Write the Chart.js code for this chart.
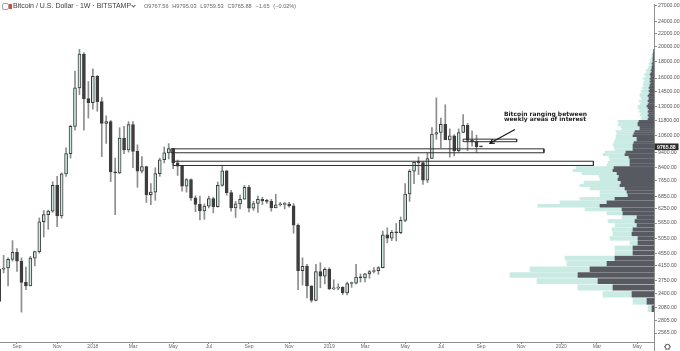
<!DOCTYPE html>
<html><head><meta charset="utf-8">
<script src="https://cdn.jsdelivr.net/npm/chart.js@4.4.1/dist/chart.umd.min.js"></script>
<style>
html,body{margin:0;padding:0;background:#fff;}
#wrap{position:relative;width:680px;height:351px;overflow:hidden;background:#fff;}
#c{position:absolute;left:0;top:0;}
.h{position:absolute;white-space:nowrap;font-family:"Liberation Sans",Arial,sans-serif;}
#ic{left:2px;top:3px;width:5px;height:5px;border:1px solid #a3a3a3;border-radius:2px;}
#logo{left:8.5px;top:3.5px;width:3.5px;height:5px;background:#e2473c;}
#sym{left:13px;top:2.2px;font-size:7px;line-height:8px;color:#3b3b3b;}
#chev{left:131.5px;top:3.6px;width:2px;height:2px;border-right:1px solid #555;border-bottom:1px solid #555;transform:rotate(45deg);}
#ohlc{left:144px;top:3.4px;font-size:5.6px;line-height:7px;color:#666;word-spacing:2.2px;}
</style></head>
<body><div id="wrap"><canvas id="c" width="680" height="351"></canvas>
<div class="h" id="ic"></div><div class="h" id="logo"></div>
<div class="h" id="sym">Bitcoin / U.S. Dollar · 1W · BITSTAMP</div><div class="h" id="chev"></div>
<div class="h" id="ohlc"></div></div>
<script>
// ---- weekly candles (Bitstamp BTC/USD) ----
const weeks = ['2017-08-07','2017-08-14','2017-08-21','2017-08-28','2017-09-04','2017-09-11','2017-09-18','2017-09-25','2017-10-02','2017-10-09','2017-10-16','2017-10-23','2017-10-30','2017-11-06','2017-11-13','2017-11-20','2017-11-27','2017-12-04','2017-12-11','2017-12-18','2017-12-25','2018-01-01','2018-01-08','2018-01-15','2018-01-22','2018-01-29','2018-02-05','2018-02-12','2018-02-19','2018-02-26','2018-03-05','2018-03-12','2018-03-19','2018-03-26','2018-04-02','2018-04-09','2018-04-16','2018-04-23','2018-04-30','2018-05-07','2018-05-14','2018-05-21','2018-05-28','2018-06-04','2018-06-11','2018-06-18','2018-06-25','2018-07-02','2018-07-09','2018-07-16','2018-07-23','2018-07-30','2018-08-06','2018-08-13','2018-08-20','2018-08-27','2018-09-03','2018-09-10','2018-09-17','2018-09-24','2018-10-01','2018-10-08','2018-10-15','2018-10-22','2018-10-29','2018-11-05','2018-11-12','2018-11-19','2018-11-26','2018-12-03','2018-12-10','2018-12-17','2018-12-24','2018-12-31','2019-01-07','2019-01-14','2019-01-21','2019-01-28','2019-02-04','2019-02-11','2019-02-18','2019-02-25','2019-03-04','2019-03-11','2019-03-18','2019-03-25','2019-04-01','2019-04-08','2019-04-15','2019-04-22','2019-04-29','2019-05-06','2019-05-13','2019-05-20','2019-05-27','2019-06-03','2019-06-10','2019-06-17','2019-06-24','2019-07-01','2019-07-08','2019-07-15','2019-07-22','2019-07-29','2019-08-05','2019-08-12','2019-08-19','2019-08-26','2019-09-02'];
const opens  = [3220,4060,4090,4350,4580,4300,3690,3600,4390,4600,5700,6000,6150,7400,5950,8040,9300,11300,14900,19000,13800,13400,16200,13500,11550,11700,8150,8100,10400,9550,11450,9450,8200,8470,6930,7050,8050,8900,9350,9640,8700,8500,7360,7720,6770,6460,6160,6380,6730,6350,7400,8220,7030,6300,6480,6700,7300,6280,6500,6700,6620,6600,6300,6440,6460,6470,6390,5560,4010,4140,3600,3240,3990,3860,4050,3520,3540,3560,3420,3660,3670,3830,3810,3920,3990,4010,4100,5190,5070,5280,5270,5760,6960,8190,8740,8720,7680,8980,10700,10820,11470,10250,10570,9500,10820,11390,10230,10140,9767.56];
const highs  = [4200,4480,4400,4980,4700,4400,4120,4450,4620,5860,6180,6200,7600,7900,8100,9700,11400,16800,19666,19200,15600,17100,16300,13900,12200,11800,9000,11200,11300,11700,11700,9900,9100,8500,7500,8400,9000,9750,9990,9650,8880,8550,7770,7760,6870,6850,6480,6850,6800,7580,8500,8250,7150,6600,6900,7400,7400,6600,6850,6800,6700,6700,6950,6550,6550,6550,6500,5620,4400,4200,3600,4200,4250,4100,4100,3760,3650,3580,3700,3700,4200,3920,3940,4020,4100,4130,5330,5460,5360,5630,5900,7500,8300,8650,9080,8800,9350,11200,13880,12000,13200,11100,10660,11100,12300,11550,10950,10620,9795.03];
const lows   = [3180,3950,3600,4300,3990,2980,3500,3600,4150,4550,5110,5400,6100,5500,5850,7900,9000,11000,14200,11000,12000,12800,12600,9100,10000,7600,6000,8050,9300,9400,8400,7300,8100,6550,6450,6650,7900,8700,8950,8350,7950,7100,7050,6650,6130,5780,5800,6300,6080,6330,7360,6900,6150,5880,6250,6700,6120,6190,6100,6450,6500,6150,6300,6380,6250,6330,5250,3500,3620,3300,3200,3230,3550,3650,3500,3500,3500,3380,3370,3560,3650,3700,3700,3800,3950,3910,4090,4900,4980,4970,5230,5700,6600,7500,8000,7450,7550,8970,10300,9700,10900,9070,9150,9400,10800,9500,9800,9360,9759.53];
const closes = [4060,4090,4350,4580,4300,3690,3600,4390,4600,5700,6000,6150,7400,5950,8040,9300,11300,14900,19000,13800,13400,16200,13500,11550,11700,8150,8100,10400,9550,11450,9450,8200,8470,6930,7050,8050,8900,9350,9640,8700,8500,7360,7720,6770,6460,6160,6380,6730,6350,7400,8220,7030,6300,6480,6700,7300,6280,6500,6700,6620,6600,6300,6440,6460,6470,6390,5560,4010,4140,3600,3240,3990,3860,4050,3520,3540,3560,3420,3660,3670,3830,3810,3920,3990,4010,4100,5190,5070,5280,5270,5760,6960,8190,8740,8720,7680,8980,10700,10820,11470,10250,10570,9500,10820,11390,10230,10140,9767.53,9765.88];

// ---- axes ----
const timeTickIdx    = [4,13,21,30,39,47,56,65,74,82,91,99,108,117,126,134,143];
const timeTickLabels = ['Sep','Nov','2018','Mar','May','Jul','Sep','Nov','2019','Mar','May','Jul','Sep','Nov','2020','Mar','May'];
const priceTicks = [27000,24000,22000,20000,18000,16000,14500,13000,11800,10600,9400,8400,7650,6850,6250,5650,5050,4550,4150,3750,3400,3080,2805,2565];

// ---- visible range volume profile (price rows) ----
const vpPrice = [3055,3222,3389,3556,3723,3890,4057,4224,4391,4558,4725,4892,5059,5226,5393,5560,5727,5894,6061,6228,6395,6562,6729,6896,7063,7230,7397,7563,7730,7897,8064,8231,8398,8565,8732,8899,9066,9233,9400,9567,9734,9901,10068,10235,10402,10569,10736,10903,11070,11237,11403,11570,11737,11904,12071,12238,12405,12572,12739,12906,13073,13240,13407,13574,13741,13908,14075,14242,14409,14576,14743,14910,15077,15244,15410,15577,15744,15911,16078,16245,16412,16579,16746,16913,17080,17247,17414,17581,17748,17915,18082,18249,18416,18583,18750,18917,19084,19251,19417,19584];
const vpDown = [2,7,22,41,56,76,64,47,39,21,21,16,16,22,21,17,19,17,31,32,54,47,39,26,27,29,34,33,36,35,37,41,40,24,24,24,25,29,28,21,21,21,20,17,17,21,20,19,14,14,16,16,15,6,5,6,5,6,5,6,7,6,5,6,5,5,6,5,4,5,4,5,4,4,3,4,3,4,3,3,4,3,2,3,2,2,2,1,2,1,1,1,1,1,0.5,1,0.5,0.5,0.3,0.3];
const vpUp   = [4,14,29,35,61,68,60,40,50,18,18,8,28,19,21,22,27,15,16,37,62,47,35,28,27,35,40,37,18,20,35,40,38,23,22,20,20,22,21,18,19,20,20,22,21,17,17,19,18,19,20,19,21,7,7,8,8,9,9,10,9,8,8,9,7,8,8,9,8,8,7,7,6,7,7,6,6,7,6,5,6,5,5,5,4,4,3,3,3,3,2,3,2,1,1.5,1,1,0.5,0.7,0.7];

// ---- drawn zones (bar index start/end, price low/high) ----
const zoneStart = [38.5, 39.0, 104.0];
const zoneEnd   = [122.1, 133.2, 116.0];
const zoneLow   = [9354, 8539, 10128];
const zoneHigh  = [9623, 8803, 10316];
const arrowFrom = [115.6, 11050];
const arrowTo   = [110.0, 10010];
const noteLines = ['Bitcoin ranging between', 'weekly areas of interest'];
const noteAt    = [113.15, 12210, 11740];

const xMin = 0.19, xMax = 146.78;
const vpUnit = (xMax - xMin) / 654;   // profile length unit, in bar widths

const last = closes.length - 1;
const lastPrice = closes[last];
const chg = closes[last] - closes[last - 1];
document.getElementById('ohlc').textContent =
  'O' + opens[last].toFixed(2) + ' H' + highs[last].toFixed(2) + ' L' + lows[last].toFixed(2) +
  ' C' + closes[last].toFixed(2) + ' ' + (chg < 0 ? '\u2212' : '+') + Math.abs(chg).toFixed(2) +
  ' (' + (chg < 0 ? '\u2212' : '+') + Math.abs(chg / closes[last - 1] * 100).toFixed(2) + '%)';

const upFill = '#c8eae3', downFill = '#3d3d3d', edge = '#3a3a3a', wickCol = '#8d8d8d';
const vpDarkCol = '#575a61', vpLightCol = '#c9ebe4', axisCol = '#8e8e8e';
const isUp = i => closes[i] >= opens[i];

const datasets = [];
zoneStart.forEach((s, k) => {
  datasets.push({
    type: 'line', xAxisID: 'x', yAxisID: 'y', order: 0,
    data: [{x: s, y: zoneHigh[k]}, {x: zoneEnd[k], y: zoneHigh[k]}, {x: zoneEnd[k], y: zoneLow[k]}, {x: s, y: zoneLow[k]}, {x: s, y: zoneHigh[k]}],
    borderColor: '#2e2e2e', borderWidth: 1, pointRadius: 0, fill: false, tension: 0
  });
});
datasets.push({
  type: 'bar', xAxisID: 'x', yAxisID: 'y', order: 4, grouped: false,
  data: weeks.map((w, i) => ({x: i, y: [opens[i], closes[i]]})),
  barThickness: 3, minBarLength: 1, borderWidth: 1, borderSkipped: false,
  backgroundColor: c => isUp(c.dataIndex) ? upFill : downFill,
  borderColor: c => isUp(c.dataIndex) ? edge : downFill
});
datasets.push({
  type: 'bar', xAxisID: 'x', yAxisID: 'y', order: 5, grouped: false,
  data: weeks.map((w, i) => ({x: i, y: [lows[i], highs[i]]})),
  barThickness: 1, backgroundColor: wickCol, borderWidth: 0
});
datasets.push({
  type: 'bar', indexAxis: 'y', xAxisID: 'x', yAxisID: 'yv', order: 10,
  data: vpPrice.map((p, k) => ({y: p, x: [xMax - vpDown[k] * vpUnit, xMax]})),
  backgroundColor: vpDarkCol, barThickness: 'flex', categoryPercentage: 1, barPercentage: 0.82, borderWidth: 0
});
datasets.push({
  type: 'bar', indexAxis: 'y', xAxisID: 'x', yAxisID: 'yv', order: 11,
  data: vpPrice.map((p, k) => ({y: p, x: [xMax - (vpDown[k] + vpUp[k]) * vpUnit, xMax - vpDown[k] * vpUnit]})),
  backgroundColor: vpLightCol, barThickness: 'flex', categoryPercentage: 1, barPercentage: 0.82, borderWidth: 0
});

const overlay = {
  id: 'overlay',
  afterDatasetsDraw(chart) {
    const {ctx, scales: {x, y}} = chart;
    ctx.save();
    const x1 = x.getPixelForValue(arrowFrom[0]), y1 = y.getPixelForValue(arrowFrom[1]);
    const x2 = x.getPixelForValue(arrowTo[0]), y2 = y.getPixelForValue(arrowTo[1]);
    ctx.strokeStyle = '#111'; ctx.lineWidth = 1.1;
    ctx.beginPath(); ctx.moveTo(x1, y1); ctx.lineTo(x2, y2); ctx.stroke();
    const a = Math.atan2(y2 - y1, x2 - x1), L = 5;
    ctx.beginPath();
    ctx.moveTo(x2 - L * Math.cos(a - 0.5), y2 - L * Math.sin(a - 0.5)); ctx.lineTo(x2, y2);
    ctx.lineTo(x2 - L * Math.cos(a + 0.5), y2 - L * Math.sin(a + 0.5));
    ctx.stroke();
    ctx.fillStyle = '#222'; ctx.font = 'bold 6px "DejaVu Sans"'; ctx.textBaseline = 'alphabetic'; ctx.textAlign = 'left';
    const tx = x.getPixelForValue(noteAt[0]);
    ctx.fillText(noteLines[0], tx, y.getPixelForValue(noteAt[1]));
    ctx.fillText(noteLines[1], tx, y.getPixelForValue(noteAt[2]));
    ctx.restore();
  },
  afterDraw(chart) {
    const {ctx, chartArea, scales: {y}} = chart;
    ctx.save();
    ctx.strokeStyle = axisCol; ctx.lineWidth = 1;
    ctx.beginPath(); ctx.moveTo(chartArea.right + 0.5, chartArea.bottom); ctx.lineTo(chartArea.right + 0.5, 351); ctx.stroke();
    const py = y.getPixelForValue(lastPrice);
    ctx.fillStyle = '#2b2b2b';
    ctx.fillRect(chartArea.right + 0.5, py - 3.3, 24, 6.6);
    ctx.fillStyle = '#fff'; ctx.font = 'bold 5.2px "Liberation Sans"'; ctx.textBaseline = 'middle'; ctx.textAlign = 'left';
    ctx.fillText(lastPrice.toFixed(2), chartArea.right + 3, py + 0.3);
    const gx = 667.5, gy = 346.8;
    ctx.strokeStyle = '#4a4a4a'; ctx.lineWidth = 0.9;
    ctx.beginPath(); ctx.arc(gx, gy, 2.4, 0, Math.PI * 2); ctx.stroke();
    for (let k = 0; k < 6; k++) {
      const t = k * Math.PI / 3;
      ctx.beginPath(); ctx.moveTo(gx + 2.4 * Math.cos(t), gy + 2.4 * Math.sin(t)); ctx.lineTo(gx + 3.4 * Math.cos(t), gy + 3.4 * Math.sin(t)); ctx.stroke();
    }
    ctx.restore();
  }
};

Chart.defaults.font.family = '"Liberation Sans", Arial, sans-serif';
new Chart(document.getElementById('c'), {
  type: 'bar',
  data: {datasets},
  plugins: [overlay],
  options: {
    responsive: false, devicePixelRatio: 1, animation: false,
    layout: {padding: 0},
    plugins: {legend: {display: false}, tooltip: {enabled: false}},
    scales: {
      x: {
        type: 'linear', position: 'bottom', min: xMin, max: xMax, offset: false, bounds: 'data',
        afterBuildTicks: s => { s.ticks = timeTickIdx.map(v => ({value: v})); },
        afterFit: s => { s.height = 9; },
        ticks: {autoSkip: false, maxRotation: 0, minRotation: 0, padding: 0, color: '#6b6b6b', font: {size: 5},
          callback: v => timeTickLabels[timeTickIdx.indexOf(v)]},
        grid: {drawOnChartArea: false, drawTicks: true, tickLength: 2, color: axisCol, offset: false},
        border: {display: true, color: axisCol, width: 1}
      },
      y: {
        type: 'logarithmic', position: 'right', min: 2405, max: 27192, offset: false, bounds: 'data', stacked: false,
        afterBuildTicks: s => { s.ticks = priceTicks.map(v => ({value: v})); },
        afterFit: s => { s.width = 26; },
        ticks: {autoSkip: false, padding: 1, color: '#555', font: {size: 5.2}, callback: v => Number(v).toFixed(2)},
        grid: {drawOnChartArea: false, drawTicks: true, tickLength: 3, color: axisCol, offset: false},
        border: {display: true, color: axisCol, width: 1}
      },
      yv: {
        type: 'logarithmic', position: 'right', display: false, min: 2405, max: 27192, offset: false, bounds: 'data', stacked: true,
        grid: {offset: false}
      }
    }
  }
});
</script>
</body></html>
